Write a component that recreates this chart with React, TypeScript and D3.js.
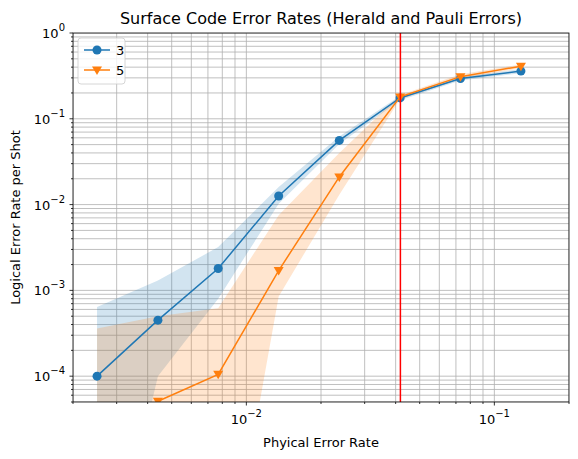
import * as d3 from 'd3';

const physRates = [0.0025, 0.0044, 0.0077, 0.0135, 0.0237, 0.0417, 0.073, 0.128];
const d3Rate = [1.0e-4, 4.5e-4, 1.8e-3, 0.0126, 0.056, 0.175, 0.295, 0.36];
const d3Upper = [6.4e-4, 1.3e-3, 3.2e-3, 0.016, 0.062, 0.185, 0.31, 0.38];
const d3Lower = [1e-7, 1.0e-4, 8.0e-4, 0.0102, 0.051, 0.165, 0.28, 0.34];
const d5Rate = [null, 5.1e-5, 1.05e-4, 1.7e-3, 0.021, 0.18, 0.31, 0.41];
const d5Upper = [3.6e-4, 5.0e-4, 6.2e-4, 0.0075, 0.04, 0.19, 0.33, 0.43];
const d5Lower = [1e-7, 1e-7, 1e-7, 8.5e-4, 0.013, 0.17, 0.29, 0.39];
const threshold = 0.0418;
const xTicks = [0.01, 0.1];
const yTicks = [1e-4, 1e-3, 1e-2, 1e-1, 1];

const W = 578, H = 459;
const m = { left: 73, right: 9, top: 33, bottom: 57 };

const supers: Record<string, string> = { '-': '\u2212' };

function tickLabel(v: number) {
  const e = Math.round(Math.log10(v));
  return (
    <>
      10<tspan dy={-7} fontSize={10}>{String(e).split('').map((c) => supers[c] ?? c).join('')}</tspan>
    </>
  );
}

function minorTicks(lo: number, hi: number) {
  const out: number[] = [];
  for (let e = Math.floor(Math.log10(lo)); e <= Math.ceil(Math.log10(hi)); e++) {
    for (let k = 1; k < 10; k++) {
      const v = k * Math.pow(10, e);
      if (v >= lo * 0.999 && v <= hi * 1.001) out.push(v);
    }
  }
  return out;
}

export default function App() {
  const x = d3.scaleLog().domain([0.002, 0.2]).range([m.left, W - m.right]);
  const y = d3.scaleLog().domain([5e-5, 1]).range([H - m.bottom, m.top]);
  const xm = minorTicks(0.002, 0.2);
  const ym = minorTicks(5e-5, 1);

  const area = (lo: number[], hi: number[]) =>
    d3.area<number>().x((_, i) => x(physRates[i])).y0((_, i) => y(lo[i])).y1((_, i) => y(hi[i]))(physRates.map((_, i) => i)) ?? '';
  const line = (vals: (number | null)[]) =>
    d3.line<number>().defined((i) => vals[i] != null).x((i) => x(physRates[i])).y((i) => y(vals[i] as number))(physRates.map((_, i) => i)) ?? '';

  const blue = '#1f77b4', orange = '#ff7f0e';
  const x0 = m.left, x1 = W - m.right, y0 = m.top, y1 = H - m.bottom;

  return (
    <svg width={W} height={H} style={{ position: 'absolute', left: 0, top: 0 }} fontFamily="DejaVu Sans">
      <rect width={W} height={H} fill="white" />
      <defs>
        <clipPath id="c"><rect x={x0} y={y0} width={x1 - x0} height={y1 - y0} /></clipPath>
      </defs>
      <g clipPath="url(#c)">
        {xm.map((v) => <line key={'gx' + v} x1={x(v)} x2={x(v)} y1={y0} y2={y1} stroke="#b0b0b0" strokeWidth={0.8} />)}
        {ym.map((v) => <line key={'gy' + v} x1={x0} x2={x1} y1={y(v)} y2={y(v)} stroke="#b0b0b0" strokeWidth={0.8} />)}
        <path d={area(d3Lower, d3Upper)} fill={blue} fillOpacity={0.2} />
        <path d={area(d5Lower, d5Upper)} fill={orange} fillOpacity={0.2} />
        <path d={line(d3Rate)} fill="none" stroke={blue} strokeWidth={1.5} />
        {d3Rate.map((v, i) => <circle key={'p3' + i} cx={x(physRates[i])} cy={y(v)} r={4.5} fill={blue} />)}
        <path d={line(d5Rate)} fill="none" stroke={orange} strokeWidth={1.5} />
        {d5Rate.map((v, i) => v == null ? null : (
          <path key={'p5' + i} transform={`translate(${x(physRates[i])},${y(v)})`} d="M-5,-3.5L5,-3.5L0,5Z" fill={orange} />
        ))}
        <line x1={x(threshold)} x2={x(threshold)} y1={y0} y2={y1} stroke="red" strokeWidth={1.5} />
      </g>
      <rect x={x0} y={y0} width={x1 - x0} height={y1 - y0} fill="none" stroke="black" strokeWidth={0.8} />
      {xm.map((v) => {
        const major = xTicks.includes(v);
        return <line key={'tx' + v} x1={x(v)} x2={x(v)} y1={y1} y2={y1 + (major ? 3.5 : 2)} stroke="black" strokeWidth={0.8} />;
      })}
      {ym.map((v) => {
        const major = yTicks.some((t) => Math.abs(t - v) < t * 1e-6);
        return <line key={'ty' + v} x1={x0} x2={x0 - (major ? 3.5 : 2)} y1={y(v)} y2={y(v)} stroke="black" strokeWidth={0.8} />;
      })}
      {xTicks.map((v) => (
        <text key={'lx' + v} x={x(v)} y={y1 + 22} textAnchor="middle" fontSize={13}>{tickLabel(v)}</text>
      ))}
      {yTicks.map((v) => (
        <text key={'ly' + v} x={x0 - 8} y={y(v) + 5} textAnchor="end" fontSize={13}>{tickLabel(v)}</text>
      ))}
      <text x={(x0 + x1) / 2} y={H - 12} textAnchor="middle" fontSize={13}>Phyical Error Rate</text>
      <text transform={`translate(20,${(y0 + y1) / 2}) rotate(-90)`} textAnchor="middle" fontSize={13}>Logical Error Rate per Shot</text>
      <text x={(x0 + x1) / 2} y={y0 - 9} textAnchor="middle" fontSize={16}>Surface Code Error Rates (Herald and Pauli Errors)</text>
      <g transform={`translate(${x0 + 5},${y0 + 5})`}>
        <rect width={47} height={46} rx={3} fill="white" fillOpacity={0.8} stroke="#cccccc" strokeWidth={0.8} />
        <line x1={6} x2={32} y1={12} y2={12} stroke={blue} strokeWidth={1.5} />
        <circle cx={19} cy={12} r={4.5} fill={blue} />
        <text x={38} y={17} fontSize={13}>3</text>
        <line x1={6} x2={32} y1={32} y2={32} stroke={orange} strokeWidth={1.5} />
        <path transform="translate(19,32)" d="M-5,-3.5L5,-3.5L0,5Z" fill={orange} />
        <text x={38} y={37} fontSize={13}>5</text>
      </g>
    </svg>
  );
}
